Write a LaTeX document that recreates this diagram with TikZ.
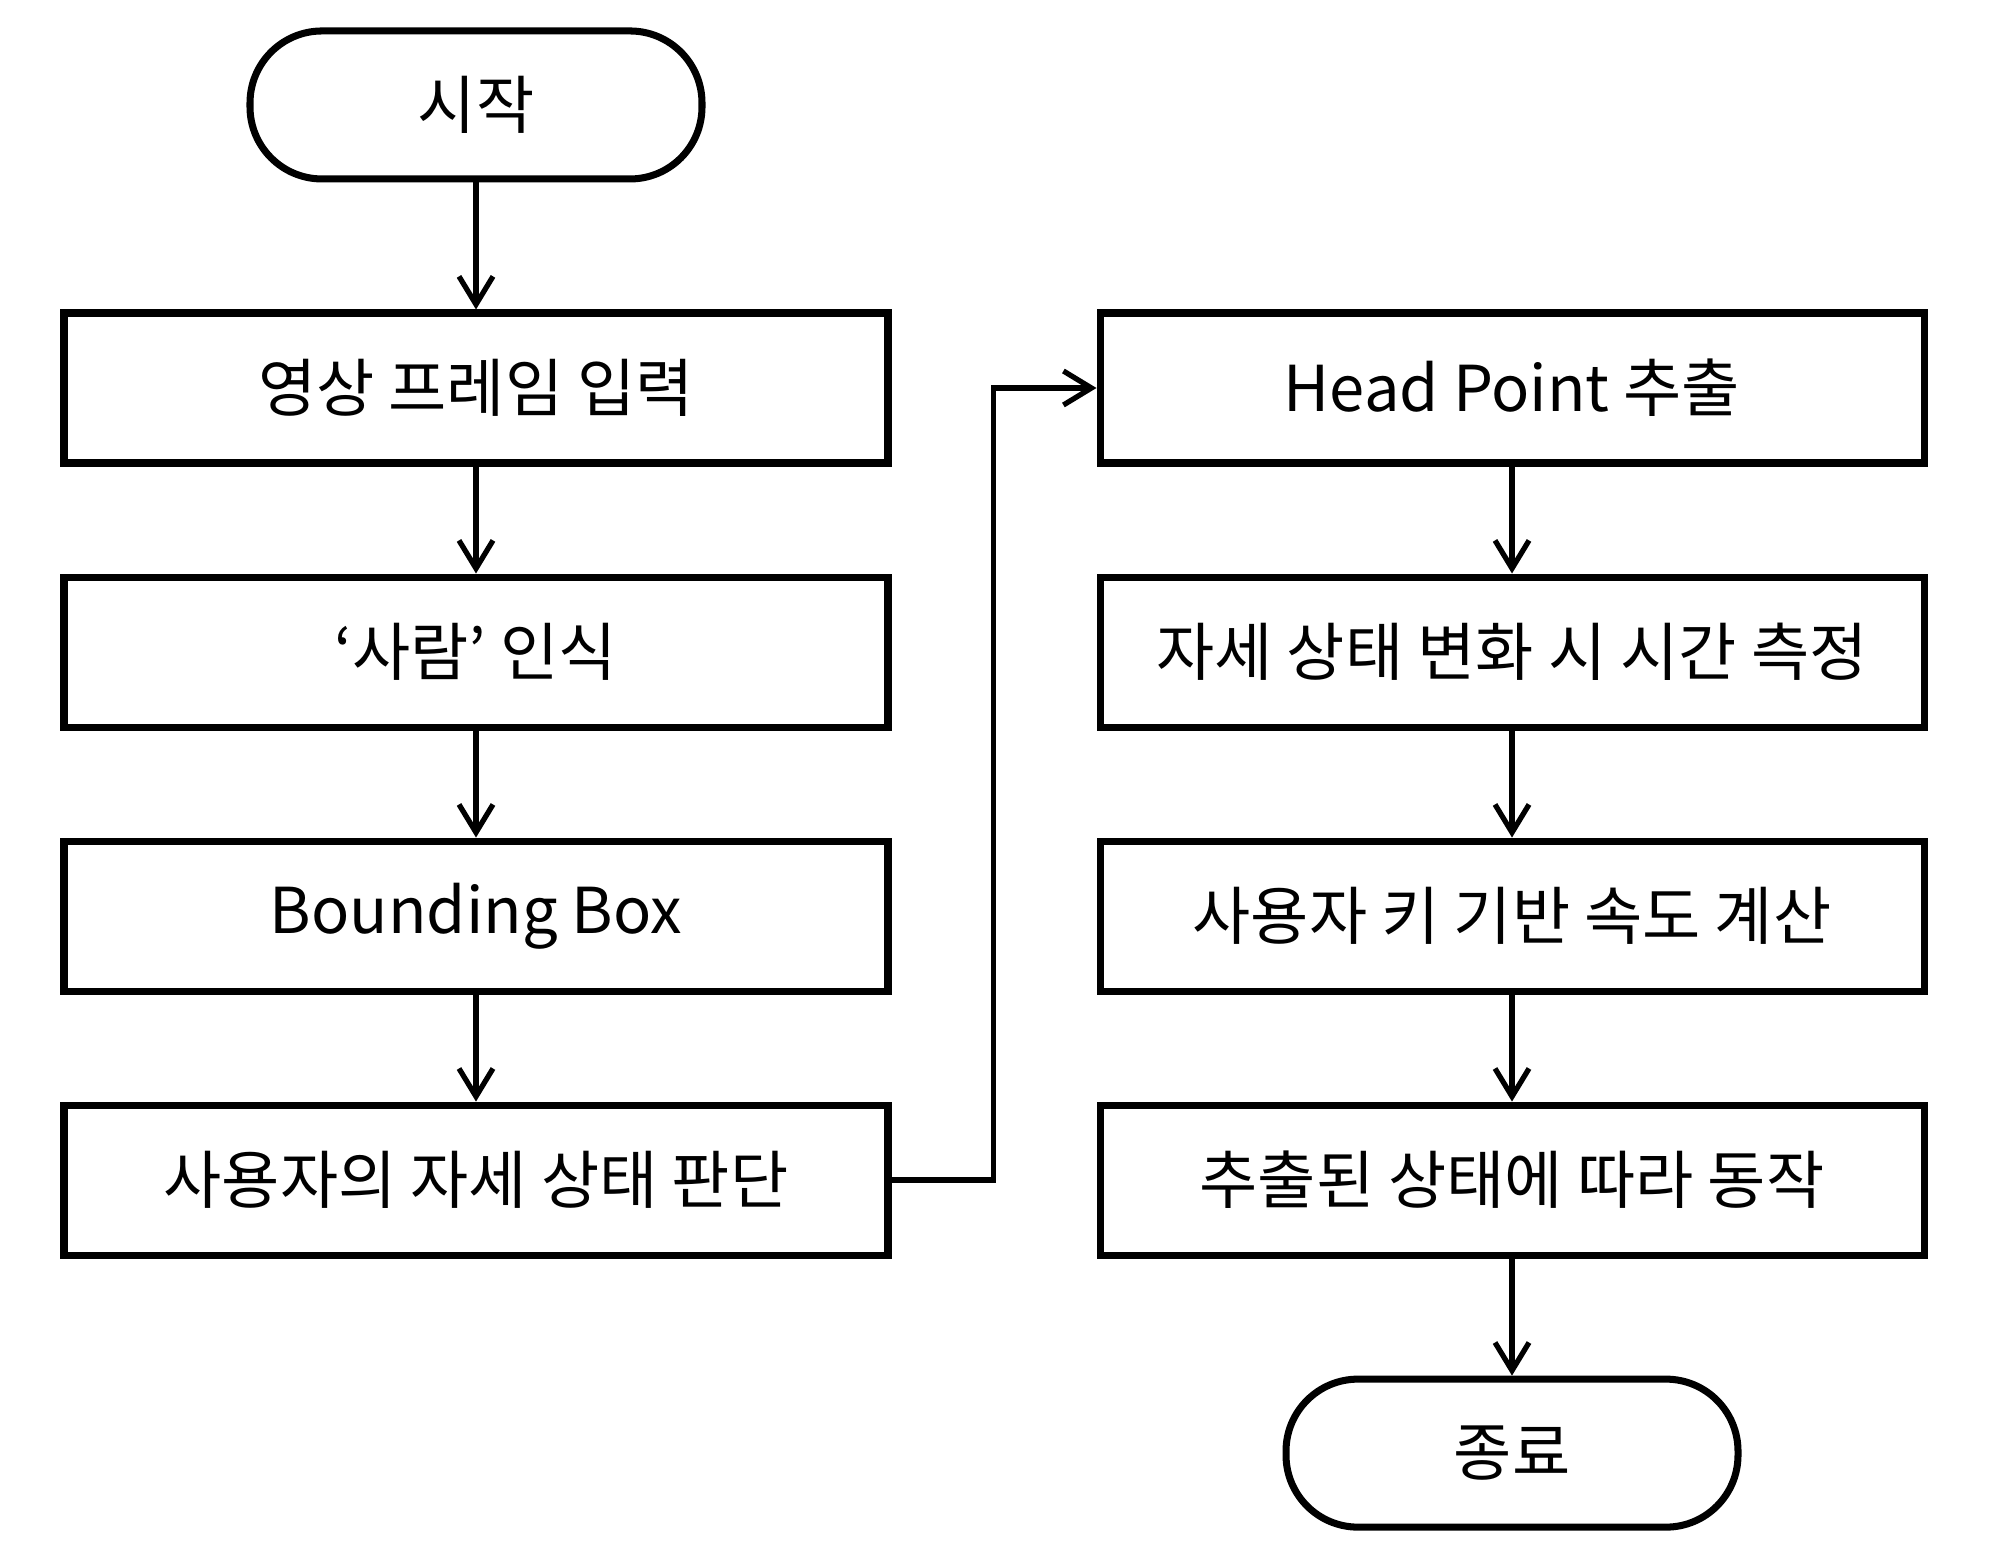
\documentclass[tikz,border=0pt]{standalone}
\usepackage{fontspec}
\setmainfont{Noto Sans CJK KR}
\usepackage{tikz}
\usetikzlibrary{arrows.meta, positioning}

\begin{document}
\begin{tikzpicture}[
block/.style={draw, line width=2pt, minimum width=8.24cm, minimum height=1.5cm, align=center, font=\fontsize{18}{21}\selectfont},
term/.style={draw, line width=2pt, rounded corners=0.72cm, minimum width=4.52cm, minimum height=1.48cm, font=\fontsize{18}{21}\selectfont},
arr/.style={-{Straight Barb[length=2.8mm, width=3.4mm]}, line width=1.5pt},
node distance=1.07cm
]
\useasboundingbox (0,0) rectangle (19.98,-15.68);
\node[block] (frame) at (4.76,-3.88) {영상 프레임 입력};
\node[term, above=1.27cm of frame] (start) {시작};
\node[block, below=of frame] (person) {‘사람’ 인식};
\node[block, below=of person] (bbox) {Bounding Box};
\node[block, below=of bbox] (pose) {사용자의 자세 상태 판단};
\node[block] (head) at (15.12,-3.88) {Head Point 추출};
\node[block, below=of head] (time) {자세 상태 변화 시 시간 측정};
\node[block, below=of time] (speed) {사용자 키 기반 속도 계산};
\node[block, below=of speed] (act) {추출된 상태에 따라 동작};
\node[term, below=1.17cm of act] (stop) {종료};

\draw[arr] (start) -- (frame);
\draw[arr] (frame) -- (person);
\draw[arr] (person) -- (bbox);
\draw[arr] (bbox) -- (pose);
\draw[arr] (pose.east) -- ++(1.02,0) |- (head.west);
\draw[arr] (head) -- (time);
\draw[arr] (time) -- (speed);
\draw[arr] (speed) -- (act);
\draw[arr] (act) -- (stop);
\end{tikzpicture}
\end{document}
